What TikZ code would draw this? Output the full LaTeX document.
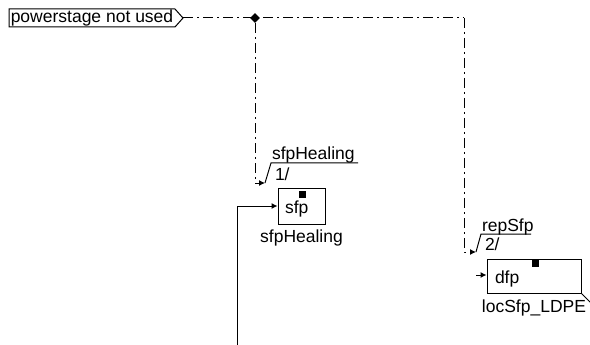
\documentclass[tikz,border=0pt]{standalone}
\usepackage{fontspec}
\setmainfont{Liberation Sans}
\usetikzlibrary{shapes,shapes.geometric,arrows.meta,positioning,calc}

\begin{document}
\begin{tikzpicture}[
    x=1pt, y=-1pt,
    font=\fontsize{17.5}{20}\selectfont,
    txt/.style={inner sep=0pt, outer sep=0pt},
    block/.style={rectangle, draw=black, line width=1pt, inner sep=0pt},
    flag/.style={rectangle, fill=black, minimum size=7pt, inner sep=0pt},
    sigline/.style={line width=1pt, dash pattern=on 10pt off 4pt on 2pt off 4pt},
    wire/.style={line width=1pt},
    arrow/.style={-{Latex[length=6pt,width=6pt]}},
    dot/.style={diamond, fill=black, minimum size=10pt, inner sep=0pt}
]
    \useasboundingbox (0,0) rectangle (590,345);

    \node[txt, minimum width=166pt, minimum height=18pt] (psnu) at (92,18) {powerstage not used};
    \coordinate (psnu tip) at (183,18);
    \draw[wire] (psnu.north west) -- (psnu.north east) -- (psnu tip) -- (psnu.south east) -- (psnu.south west) -- cycle;

    \node[dot] (jn) at (255,18) {};
    \coordinate (corner) at (464,18);

    \node[block, minimum width=47pt, minimum height=36pt] (sfp) at (301.5,206) {};
    \node[txt, anchor=base west] (sfp txt) at (285,213) {sfp};
    \node[flag] (sfp flag) at (302,194.5) {};
    \node[txt, below=5pt of sfp] (sfp lbl) {sfpHealing};

    \node[txt, anchor=base west] (sfp hdr) at (272,160) {sfpHealing};
    \node[txt, anchor=base west] (sfp idx) at (275,180) {1/};
    \coordinate (sfp in) at (265,183);

    \node[txt, anchor=base west] (rep hdr) at (482,231) {repSfp};
    \node[txt, anchor=base west] (rep idx) at (485,250) {2/};
    \coordinate (rep in) at (476,252);

    \node[block, minimum width=94pt, minimum height=34pt] (dfp) at (534,276) {};
    \node[txt, anchor=base west] (dfp txt) at (495,283) {dfp};
    \node[flag] (dfp flag) at (535.5,263.5) {};
    \node[txt, below=6pt of dfp] (dfp lbl) {locSfp\_LDPE};
    \coordinate (dfp stub) at (476,275);
    \coordinate (feed) at (237,345);

    \draw[sigline] (psnu tip) -- (corner);
    \draw[sigline, arrow] (jn) |- (sfp in);
    \draw[sigline, arrow] (corner) |- (rep in);
    \draw[wire] (sfp in) -- ++(6,-20) -- ++(87,0);
    \draw[wire] (rep in) -- ++(5,-18) -- ++(50,0);
    \draw[wire, arrow] (feed) |- (sfp.west);
    \draw[wire, arrow] (dfp stub) -- (dfp.west |- dfp stub);
    \draw[wire] (dfp.south east) -- ++(10,10);
\end{tikzpicture}
\end{document}
